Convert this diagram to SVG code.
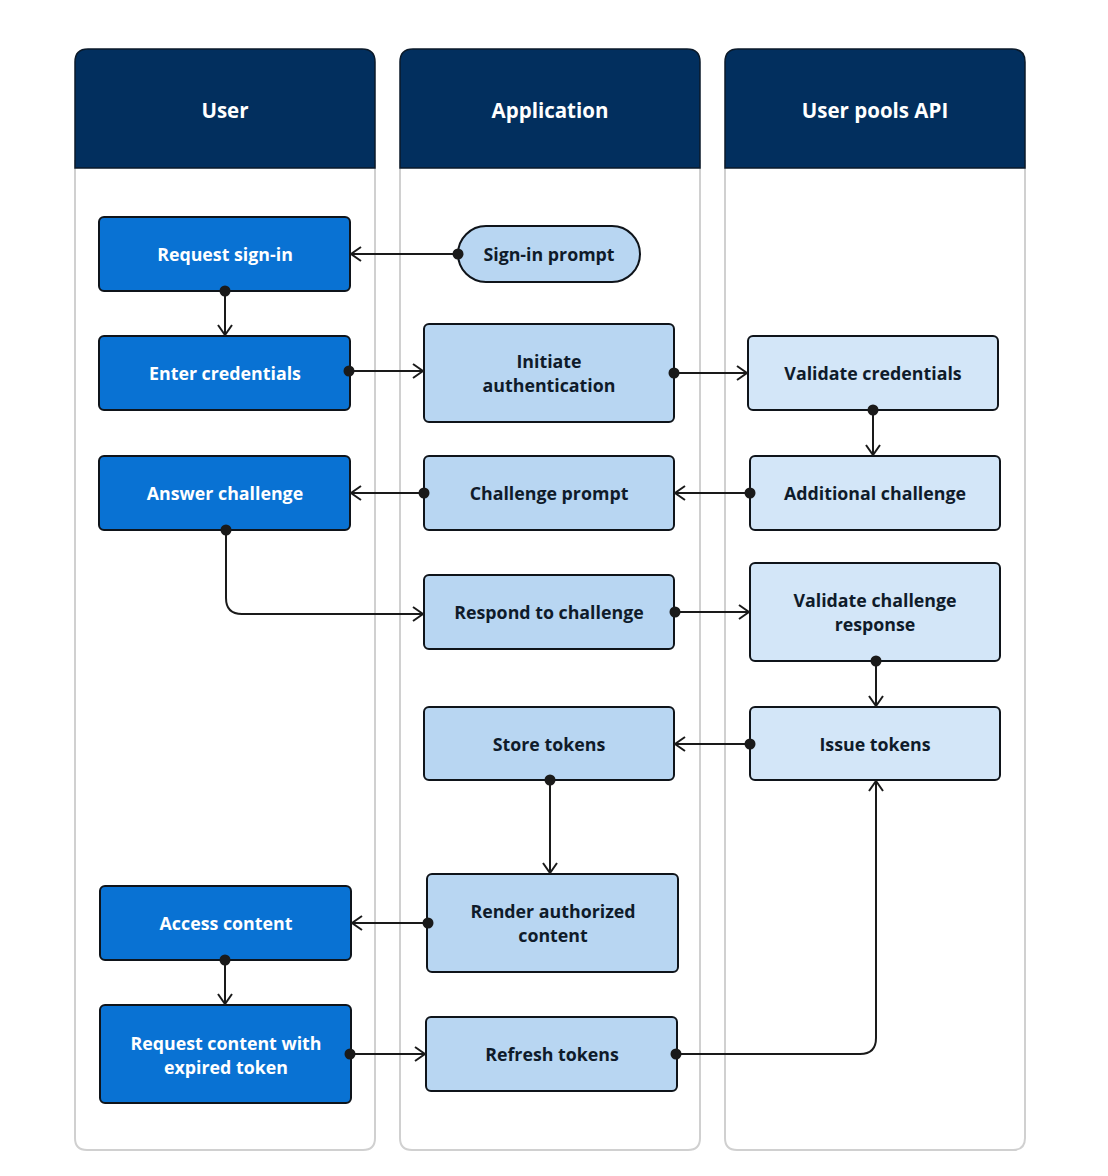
<svg xmlns="http://www.w3.org/2000/svg" width="1108" height="1176" viewBox="0 0 1108 1176">
<defs>
<style>
.lane{fill:#fff;stroke:#d0d0d0;stroke-width:2}
.hdr{fill:#022f5e;stroke:#0b1a2a;stroke-width:1.5}
.ht{font-family:"Open Sans","Noto Sans",sans-serif;font-weight:700;font-size:20.5px;fill:#fff;text-anchor:middle}
.u{fill:#0972d3;stroke:#0f141a;stroke-width:2}
.a{fill:#b8d6f2;stroke:#0f141a;stroke-width:2}
.p{fill:#d3e6f8;stroke:#0f141a;stroke-width:2}
.tw{font-family:"Open Sans","Noto Sans",sans-serif;font-weight:700;font-size:17.8px;fill:#fff;text-anchor:middle}
.td{font-family:"Open Sans","Noto Sans",sans-serif;font-weight:700;font-size:17.8px;fill:#0f1b2a;text-anchor:middle}
.c{fill:none;stroke:#1a1a1a;stroke-width:2}
.d{fill:#1a1a1a}
</style>
<marker id="ar" viewBox="0 0 12 16" refX="11" refY="8" markerWidth="12" markerHeight="16" markerUnits="userSpaceOnUse" orient="auto">
<path d="M1,1 L11,8 L1,15" fill="none" stroke="#1a1a1a" stroke-width="2"/>
</marker>
</defs>
<rect width="1108" height="1176" fill="#fff"/>
<g id="lane-user">
<path class="lane" d="M75,160 V1138 Q75,1150 87,1150 H363 Q375,1150 375,1138 V160"/>
<path class="hdr" d="M75,168 V62 Q75,49 88,49 H362 Q375,49 375,62 V168 Z"/>
<text class="ht" x="225" y="118">User</text>
</g>
<g id="lane-app">
<path class="lane" d="M400,160 V1138 Q400,1150 412,1150 H688 Q700,1150 700,1138 V160"/>
<path class="hdr" d="M400,168 V62 Q400,49 413,49 H687 Q700,49 700,62 V168 Z"/>
<text class="ht" x="550" y="118">Application</text>
</g>
<g id="lane-api">
<path class="lane" d="M725,160 V1138 Q725,1150 737,1150 H1013 Q1025,1150 1025,1138 V160"/>
<path class="hdr" d="M725,168 V62 Q725,49 738,49 H1012 Q1025,49 1025,62 V168 Z"/>
<text class="ht" x="875" y="118">User pools API</text>
</g>

<g id="n-request-signin"><rect class="u" x="99" y="217" width="251" height="74" rx="5"/><text class="tw" x="225" y="261">Request sign-in</text></g>
<g id="n-enter-credentials"><rect class="u" x="99" y="336" width="251" height="74" rx="5"/><text class="tw" x="225" y="380">Enter credentials</text></g>
<g id="n-answer-challenge"><rect class="u" x="99" y="456" width="251" height="74" rx="5"/><text class="tw" x="225" y="500">Answer challenge</text></g>
<g id="n-access-content"><rect class="u" x="100" y="886" width="251" height="74" rx="5"/><text class="tw" x="226" y="930">Access content</text></g>
<g id="n-request-expired"><rect class="u" x="100" y="1005" width="251" height="98" rx="5"/><text class="tw" x="226" y="1050">Request content with</text><text class="tw" x="226" y="1074">expired token</text></g>

<g id="n-signin-prompt"><rect class="a" x="458" y="226" width="182" height="56" rx="28"/><text class="td" x="549" y="261">Sign-in prompt</text></g>
<g id="n-initiate-auth"><rect class="a" x="424" y="324" width="250" height="98" rx="5"/><text class="td" x="549" y="368">Initiate</text><text class="td" x="549" y="392">authentication</text></g>
<g id="n-challenge-prompt"><rect class="a" x="424" y="456" width="250" height="74" rx="5"/><text class="td" x="549" y="500">Challenge prompt</text></g>
<g id="n-respond-challenge"><rect class="a" x="424" y="575" width="250" height="74" rx="5"/><text class="td" x="549" y="619">Respond to challenge</text></g>
<g id="n-store-tokens"><rect class="a" x="424" y="707" width="250" height="73" rx="5"/><text class="td" x="549" y="751">Store tokens</text></g>
<g id="n-render-content"><rect class="a" x="427" y="874" width="251" height="98" rx="5"/><text class="td" x="553" y="918">Render authorized</text><text class="td" x="553" y="942">content</text></g>
<g id="n-refresh-tokens"><rect class="a" x="426" y="1017" width="251" height="74" rx="5"/><text class="td" x="552" y="1061">Refresh tokens</text></g>

<g id="n-validate-credentials"><rect class="p" x="748" y="336" width="250" height="74" rx="5"/><text class="td" x="873" y="380">Validate credentials</text></g>
<g id="n-additional-challenge"><rect class="p" x="750" y="456" width="250" height="74" rx="5"/><text class="td" x="875" y="500">Additional challenge</text></g>
<g id="n-validate-response"><rect class="p" x="750" y="563" width="250" height="98" rx="5"/><text class="td" x="875" y="607">Validate challenge</text><text class="td" x="875" y="631">response</text></g>
<g id="n-issue-tokens"><rect class="p" x="750" y="707" width="250" height="73" rx="5"/><text class="td" x="875" y="751">Issue tokens</text></g>

<g id="connectors">
<path class="c" marker-end="url(#ar)" d="M458,254 H351"/><circle class="d" cx="458" cy="254" r="5.5"/>
<path class="c" marker-end="url(#ar)" d="M225,291 V335"/><circle class="d" cx="225" cy="291" r="5.5"/>
<path class="c" marker-end="url(#ar)" d="M349,371 H423"/><circle class="d" cx="349" cy="371" r="5.5"/>
<path class="c" marker-end="url(#ar)" d="M674,373 H747"/><circle class="d" cx="674" cy="373" r="5.5"/>
<path class="c" marker-end="url(#ar)" d="M873,410 V455"/><circle class="d" cx="873" cy="410" r="5.5"/>
<path class="c" marker-end="url(#ar)" d="M750,493 H675"/><circle class="d" cx="750" cy="493" r="5.5"/>
<path class="c" marker-end="url(#ar)" d="M424,493 H351"/><circle class="d" cx="424" cy="493" r="5.5"/>
<path class="c" marker-end="url(#ar)" d="M226,530 V598 Q226,614 242,614 H423"/><circle class="d" cx="226" cy="530" r="5.5"/>
<path class="c" marker-end="url(#ar)" d="M675,612 H749"/><circle class="d" cx="675" cy="612" r="5.5"/>
<path class="c" marker-end="url(#ar)" d="M876,661 V706"/><circle class="d" cx="876" cy="661" r="5.5"/>
<path class="c" marker-end="url(#ar)" d="M750,744 H675"/><circle class="d" cx="750" cy="744" r="5.5"/>
<path class="c" marker-end="url(#ar)" d="M550,780 V873"/><circle class="d" cx="550" cy="780" r="5.5"/>
<path class="c" marker-end="url(#ar)" d="M428,923 H352"/><circle class="d" cx="428" cy="923" r="5.5"/>
<path class="c" marker-end="url(#ar)" d="M225,960 V1004"/><circle class="d" cx="225" cy="960" r="5.5"/>
<path class="c" marker-end="url(#ar)" d="M350,1054 H425"/><circle class="d" cx="350" cy="1054" r="5.5"/>
<path class="c" marker-end="url(#ar)" d="M676,1054 H860 Q876,1054 876,1038 V781"/><circle class="d" cx="676" cy="1054" r="5.5"/>
</g>
</svg>
